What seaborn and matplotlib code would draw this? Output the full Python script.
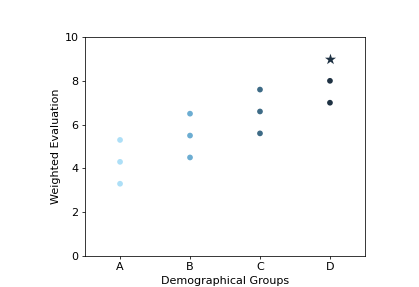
import matplotlib
matplotlib.use('Agg')
import matplotlib.pyplot as plt
import seaborn as sns
import pandas as pd

# data
groups = ['A', 'A', 'A', 'B', 'B', 'B', 'C', 'C', 'C', 'D', 'D', 'D']
scores = [3.3, 4.3, 5.3, 4.5, 5.5, 6.5, 5.6, 6.6, 7.6, 7.0, 8.0, 9.0]
kind = ['dot'] * 11 + ['star']
palette = {'A': '#addff7', 'B': '#6cadd2', 'C': '#3e6b86', 'D': '#1f3243'}

df = pd.DataFrame({'group': groups, 'score': scores, 'kind': kind})
df['pos'] = df['group'].map({'A': 0, 'B': 1, 'C': 2, 'D': 3})

plt.rcParams['font.size'] = 8
fig, ax = plt.subplots(figsize=(4.19, 2.87), dpi=100)
fig.subplots_adjust(left=0.203, right=0.871, top=0.871, bottom=0.108)

dots = df[df['kind'] == 'dot']
stars = df[df['kind'] == 'star']
sns.scatterplot(data=dots, x='pos', y='score', hue='group', palette=palette,
                s=17, linewidth=0, legend=False, ax=ax)
sns.scatterplot(data=stars, x='pos', y='score', hue='group', palette=palette,
                marker='*', s=70, linewidth=0, legend=False, ax=ax)

ax.set_xlim(-0.5, 3.5)
ax.set_ylim(0, 10)
ax.set_xticks([0, 1, 2, 3])
ax.set_xticklabels(['A', 'B', 'C', 'D'])
ax.set_yticks([0, 2, 4, 6, 8, 10])
ax.set_xlabel('Demographical Groups', labelpad=2.6)
ax.set_ylabel('Weighted Evaluation', labelpad=2.6)
ax.tick_params(length=2.3, width=0.55, pad=2.3)
for sp in ax.spines.values():
    sp.set_linewidth(0.55)

plt.savefig('out.png', dpi=100)
